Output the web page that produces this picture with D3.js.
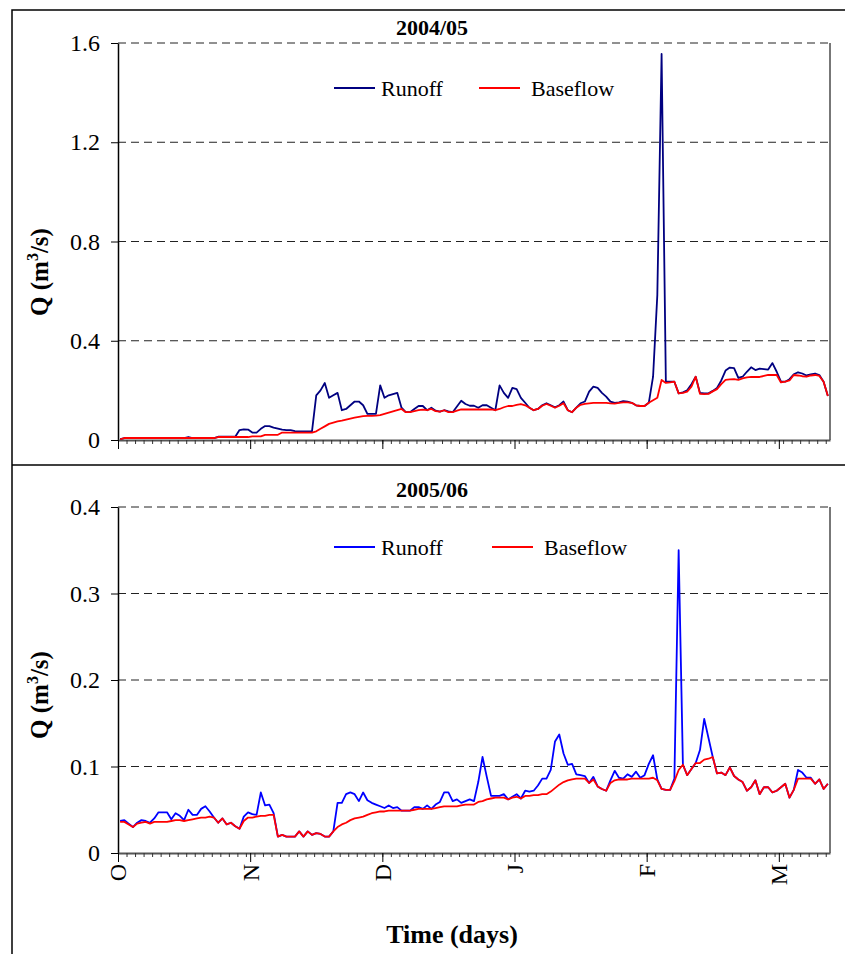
<!DOCTYPE html>
<html>
<head>
<meta charset="utf-8">
<script src="https://cdn.jsdelivr.net/npm/d3@7"></script>
<style>
  body { margin: 0; background: #fff; }
  svg { display: block; }
  text { font-family: "Liberation Serif", "Times New Roman", serif; fill: #000; }
</style>
</head>
<body>
<div id="chart"></div>
<script>
// daily flow, 1 Oct -> mid March (167 days)
const runoff0405 = [
  0.004, 0.008, 0.008, 0.008, 0.008, 0.008, 0.008, 0.008, 0.008, 0.008, 0.008, 0.008, 0.008, 0.008, 0.008, 0.008,
  0.012, 0.008, 0.008, 0.008, 0.008, 0.008, 0.008, 0.013, 0.013, 0.013, 0.013, 0.013,
  0.04, 0.043, 0.042, 0.03, 0.03, 0.045, 0.056, 0.056, 0.05, 0.046, 0.042, 0.04, 0.04, 0.036, 0.035, 0.035, 0.035, 0.035,
  0.18, 0.2, 0.23, 0.17, 0.18, 0.19, 0.12, 0.125, 0.14, 0.155, 0.155, 0.14, 0.105, 0.105, 0.105,
  0.22, 0.17, 0.18, 0.185, 0.19, 0.13, 0.112, 0.112, 0.125, 0.137, 0.137, 0.12, 0.13, 0.118, 0.114, 0.12, 0.115, 0.112,
  0.135, 0.158, 0.145, 0.138, 0.138, 0.13, 0.14, 0.14, 0.13, 0.12, 0.22, 0.19, 0.17, 0.21, 0.205, 0.17, 0.15, 0.13, 0.12,
  0.125, 0.14, 0.148, 0.14, 0.132, 0.14, 0.155, 0.12, 0.112, 0.13, 0.148, 0.155, 0.195, 0.215, 0.21, 0.19, 0.175, 0.155,
  0.15, 0.152, 0.157, 0.155, 0.15, 0.14, 0.137, 0.137, 0.15, 0.255, 0.585, 1.556, 0.235, 0.235, 0.235,
  0.188, 0.192, 0.2, 0.225, 0.255, 0.19, 0.188, 0.188, 0.198, 0.21, 0.24, 0.28, 0.292, 0.29, 0.25, 0.255, 0.275, 0.293,
  0.282, 0.288, 0.286, 0.284, 0.31, 0.275, 0.235, 0.235, 0.245, 0.265, 0.273, 0.268, 0.26, 0.264, 0.268, 0.262, 0.235, 0.177
]
const baseflow0405 = [
  0.003, 0.008, 0.008, 0.008, 0.008, 0.008, 0.008, 0.008, 0.008, 0.008, 0.008, 0.008, 0.008, 0.008, 0.008, 0.008,
  0.008, 0.008, 0.008, 0.008, 0.008, 0.008, 0.008, 0.012, 0.012, 0.012, 0.012, 0.012,
  0.012, 0.012, 0.012, 0.015, 0.015, 0.015, 0.021, 0.021, 0.021, 0.021, 0.03, 0.03, 0.03, 0.03, 0.03, 0.03, 0.03, 0.03,
  0.035, 0.045, 0.055, 0.065, 0.07, 0.075, 0.078, 0.082, 0.086, 0.09, 0.093, 0.096, 0.097, 0.097, 0.098,
  0.1, 0.105, 0.11, 0.115, 0.12, 0.125, 0.112, 0.112, 0.116, 0.12, 0.122, 0.12, 0.125, 0.116, 0.114, 0.12, 0.112, 0.112,
  0.118, 0.123, 0.123, 0.123, 0.123, 0.123, 0.123, 0.123, 0.123, 0.12, 0.125, 0.132, 0.137, 0.137, 0.142, 0.145, 0.14, 0.13, 0.12,
  0.125, 0.138, 0.145, 0.138, 0.13, 0.138, 0.148, 0.12, 0.112, 0.13, 0.142, 0.146, 0.148, 0.15, 0.15, 0.15, 0.15, 0.148,
  0.147, 0.15, 0.152, 0.152, 0.15, 0.14, 0.137, 0.137, 0.15, 0.16, 0.17, 0.242, 0.23, 0.232, 0.235,
  0.188, 0.19, 0.195, 0.215, 0.255, 0.186, 0.185, 0.186, 0.196, 0.205, 0.225, 0.242, 0.244, 0.245, 0.242, 0.248, 0.252, 0.254,
  0.254, 0.254, 0.258, 0.262, 0.262, 0.262, 0.232, 0.235, 0.24, 0.262, 0.26, 0.257, 0.255, 0.26, 0.262, 0.258, 0.235, 0.177
]
const runoff0506 = [
  0.037, 0.038, 0.034, 0.030, 0.035, 0.038, 0.037, 0.035, 0.04, 0.047, 0.047, 0.047, 0.039, 0.046, 0.043, 0.038,
  0.05, 0.044, 0.044, 0.051, 0.054, 0.048, 0.041, 0.035, 0.04, 0.033, 0.035, 0.031, 0.028, 0.042, 0.047, 0.045,
  0.044, 0.07, 0.055, 0.056, 0.046, 0.019, 0.021, 0.019, 0.019, 0.019, 0.025, 0.019, 0.025, 0.021, 0.023, 0.022,
  0.019, 0.019, 0.025, 0.058, 0.058, 0.068, 0.07, 0.068, 0.06, 0.07, 0.061, 0.058, 0.056, 0.054, 0.052, 0.055,
  0.052, 0.053, 0.049, 0.049, 0.049, 0.053, 0.053, 0.051, 0.055, 0.051, 0.056, 0.059, 0.07, 0.07, 0.06, 0.062,
  0.058, 0.06, 0.062, 0.06, 0.082, 0.111, 0.088, 0.066, 0.066, 0.066, 0.068, 0.062, 0.065, 0.068, 0.063, 0.072,
  0.071, 0.072, 0.078, 0.086, 0.086, 0.096, 0.129, 0.137, 0.115, 0.102, 0.103, 0.091, 0.09, 0.089, 0.081, 0.088,
  0.077, 0.074, 0.072, 0.084, 0.095, 0.087, 0.086, 0.091, 0.088, 0.094, 0.087, 0.09, 0.103, 0.113, 0.085, 0.074,
  0.073, 0.073, 0.086, 0.35, 0.102, 0.09, 0.097, 0.104, 0.119, 0.155, 0.133, 0.111, 0.092, 0.093, 0.09, 0.099,
  0.089, 0.085, 0.082, 0.072, 0.076, 0.084, 0.068, 0.076, 0.076, 0.07, 0.072, 0.076, 0.08, 0.064, 0.073, 0.096,
  0.093, 0.087, 0.087, 0.08, 0.085, 0.074, 0.08
]
const baseflow0506 = [
  0.036, 0.036, 0.033, 0.03, 0.034, 0.035, 0.036, 0.034, 0.036, 0.036, 0.036, 0.036, 0.037, 0.038, 0.038, 0.037,
  0.038, 0.039, 0.04, 0.041, 0.041, 0.042, 0.041, 0.035, 0.04, 0.033, 0.035, 0.031, 0.028, 0.037, 0.041, 0.041,
  0.042, 0.043, 0.043, 0.044, 0.044, 0.019, 0.021, 0.019, 0.019, 0.019, 0.025, 0.019, 0.025, 0.021, 0.023, 0.022,
  0.019, 0.019, 0.025, 0.03, 0.033, 0.035, 0.038, 0.04, 0.041, 0.042, 0.044, 0.046, 0.047, 0.048, 0.048, 0.049,
  0.049, 0.049, 0.049, 0.049, 0.049, 0.05, 0.051, 0.051, 0.051, 0.051, 0.052, 0.053, 0.054, 0.054, 0.054, 0.054,
  0.055, 0.056, 0.056, 0.056, 0.059, 0.06, 0.062, 0.063, 0.064, 0.064, 0.064, 0.062, 0.064, 0.065, 0.063, 0.066,
  0.066, 0.067, 0.067, 0.068, 0.068, 0.071, 0.075, 0.079, 0.082, 0.084, 0.085, 0.086, 0.086, 0.086, 0.081, 0.085,
  0.077, 0.074, 0.072, 0.081, 0.084, 0.085, 0.085, 0.085, 0.086, 0.086, 0.086, 0.086, 0.086, 0.087, 0.084, 0.074,
  0.073, 0.073, 0.083, 0.096, 0.102, 0.09, 0.097, 0.104, 0.104, 0.108, 0.109, 0.111, 0.092, 0.093, 0.09, 0.099,
  0.089, 0.085, 0.082, 0.072, 0.076, 0.084, 0.068, 0.076, 0.076, 0.07, 0.072, 0.076, 0.08, 0.064, 0.073, 0.086,
  0.086, 0.086, 0.086, 0.08, 0.085, 0.074, 0.08
]

const monthLabels = ['O', 'N', 'D', 'J', 'F', 'M']
const monthTickDays = [0, 31, 62, 93, 124, 155]
const yTicks0405 = [0, 0.4, 0.8, 1.2, 1.6]
const yTicks0506 = [0, 0.1, 0.2, 0.3, 0.4]

const width = 845
const height = 954
const nDays = runoff0405.length

const svg = d3.select('#chart')
  .append('svg')
  .attr('width', width)
  .attr('height', height)

// frame around the two panels
svg.append('path')
  .attr('d', `M12,${height} V10 H${width}`)
  .attr('fill', 'none')
  .attr('stroke', '#000')
  .attr('stroke-width', 1.5)
svg.append('line')
  .attr('x1', 12).attr('x2', width)
  .attr('y1', 465).attr('y2', 465)
  .attr('stroke', '#000')
  .attr('stroke-width', 1.5)

const x = d3.scaleLinear().domain([0, nDays]).range([118, 830])
const minorDays = d3.range(0, nDays + 1, 2)

const panels = [
  { title: '2004/05', runoff: runoff0405, baseflow: baseflow0405, ticks: yTicks0405,
    top: 43, bottom: 440, titleY: 35, qY: 272, runColor: '#000080', legendY: 88, legendX: [334, 479], labels: false },
  { title: '2005/06', runoff: runoff0506, baseflow: baseflow0506, ticks: yTicks0506,
    top: 507, bottom: 853, titleY: 497, qY: 695, runColor: '#0000ff', legendY: 547, legendX: [334, 492], labels: true }
]

panels.forEach(p => {
  const y = d3.scaleLinear()
    .domain([0, d3.max(p.ticks)])
    .range([p.bottom, p.top])
  const g = svg.append('g')

  g.append('text')
    .attr('x', 432)
    .attr('y', p.titleY)
    .attr('text-anchor', 'middle')
    .attr('font-size', 22)
    .attr('font-weight', 'bold')
    .text(p.title)

  // dashed gridlines
  g.selectAll('.grid')
    .data(p.ticks.filter(d => d > 0))
    .enter()
    .append('line')
    .attr('x1', x(0)).attr('x2', x(nDays))
    .attr('y1', d => y(d)).attr('y2', d => y(d))
    .attr('stroke', '#222')
    .attr('stroke-width', 1)
    .attr('stroke-dasharray', '8,5')

  // right edge of plot area
  g.append('line')
    .attr('x1', x(nDays)).attr('x2', x(nDays))
    .attr('y1', p.top).attr('y2', p.bottom)
    .attr('stroke', '#777')
    .attr('stroke-width', 2)

  // y axis
  const yAxis = g.append('g')
    .attr('transform', `translate(${x(0)},0)`)
    .call(d3.axisLeft(y).tickValues(p.ticks).tickSize(7).tickSizeOuter(0)
      .tickFormat(d => d === 0 ? '0' : d3.format('.1f')(d)))
  yAxis.selectAll('text').attr('font-size', 24).attr('font-family', '"Liberation Serif", serif').attr('dx', -8)
  yAxis.select('.domain').attr('stroke', '#000').attr('stroke-width', 1.5)

  g.append('text')
    .attr('transform', `translate(48,${p.qY}) rotate(-90)`)
    .attr('text-anchor', 'middle')
    .attr('font-size', 25)
    .attr('font-weight', 'bold')
    .call(t => {
      t.append('tspan').text('Q (m')
      t.append('tspan').attr('font-size', 16).attr('dy', -10).text('3')
      t.append('tspan').attr('dy', 10).text('/s)')
    })

  // x axis: minor ticks every 2 days, major every 31
  const xAxis = g.append('g')
    .attr('transform', `translate(0,${p.bottom})`)
  xAxis.call(d3.axisBottom(x).tickValues(minorDays).tickSize(4).tickSizeOuter(0).tickFormat(''))
  xAxis.select('.domain').attr('stroke', '#555').attr('stroke-width', 2)
  xAxis.selectAll('.tick line').attr('stroke', '#333')
  const xMajor = g.append('g')
    .attr('transform', `translate(0,${p.bottom})`)
    .call(d3.axisBottom(x).tickValues(monthTickDays).tickSize(9).tickSizeOuter(0).tickFormat(''))
  xMajor.select('.domain').remove()

  if (p.labels) {
    g.selectAll('.month')
      .data(monthTickDays)
      .enter()
      .append('text')
      .attr('transform', d => `translate(${x(d)},864) rotate(-90)`)
      .attr('text-anchor', 'end')
      .attr('dy', '0.35em')
      .attr('font-size', 24)
      .text((d, i) => monthLabels[i])
  }

  const line = d3.line()
    .x((d, i) => x(i + 0.5))
    .y(d => y(d))

  g.append('path')
    .datum(p.runoff)
    .attr('fill', 'none')
    .attr('stroke', p.runColor)
    .attr('stroke-width', 1.8)
    .attr('stroke-linejoin', 'round')
    .attr('d', line)
  g.append('path')
    .datum(p.baseflow)
    .attr('fill', 'none')
    .attr('stroke', '#ff0000')
    .attr('stroke-width', 1.8)
    .attr('stroke-linejoin', 'round')
    .attr('d', line)

  // legend
  const items = [
    { name: 'Runoff', color: p.runColor },
    { name: 'Baseflow', color: '#ff0000' }
  ]
  const lg = g.selectAll('.legend')
    .data(items)
    .enter()
    .append('g')
    .attr('transform', (d, i) => `translate(${p.legendX[i]},${p.legendY})`)
  lg.append('line')
    .attr('x1', 0).attr('x2', 41)
    .attr('stroke', d => d.color)
    .attr('stroke-width', 2)
  lg.append('text')
    .attr('x', (d, i) => i === 0 ? 47 : 52)
    .attr('dy', '0.35em')
    .attr('font-size', 22)
    .text(d => d.name)
})

svg.append('text')
  .attr('x', 452)
  .attr('y', 943)
  .attr('text-anchor', 'middle')
  .attr('font-size', 26)
  .attr('font-weight', 'bold')
  .text('Time (days)')
</script>
</body>
</html>
